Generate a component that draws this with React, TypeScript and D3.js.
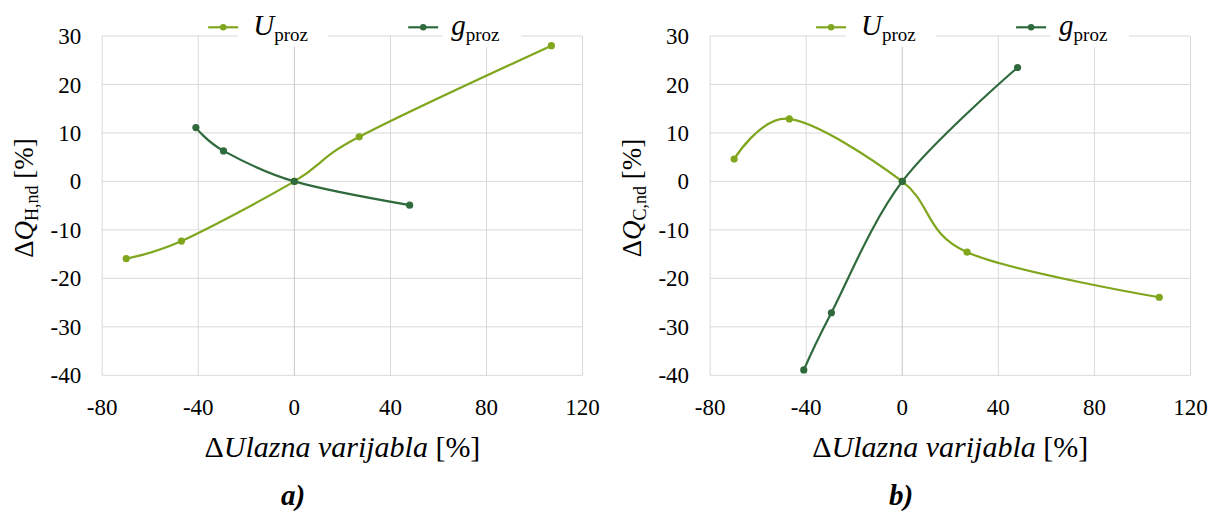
import React from "react";
import * as d3 from "d3";

// ---- data ----
const xU = [-70, -47, 0, 27, 107];
const xG = [-41, -29.5, 0, 48];
const leftU = [-15.9, -12.3, 0, 9.2, 28.0];
const leftG = [11.1, 6.3, 0, -4.9];
const rightU = [4.6, 12.9, 0, -14.6, -23.9];
const rightG = [-38.9, -27.1, 0, 23.5];
const xTicks = [-80, -40, 0, 40, 80, 120];
const yTicks = [30, 20, 10, 0, -10, -20, -30, -40];
const seriesNames = ["U", "g"];
const subName = "proz";
const panels = [
  { sub: "H,nd", label: "a)", u: leftU, g: leftG },
  { sub: "C,nd", label: "b)", u: rightU, g: rightG },
];

const COL_U = "#7fa61d";
const COL_G = "#2f6a3d";
const GRID = "#d9d9d9";
const FONT = "Liberation Serif";
const fs = (size: number, extra: React.CSSProperties = {}): React.CSSProperties => ({
  fontFamily: FONT,
  fontSize: size + "px",
  ...extra,
});

function Panel({ left, p }: { left: number; p: typeof panels[0] }) {
  const W = 480.4;
  const top = 36;
  const bottom = 375.3;
  const x = d3.scaleLinear().domain([-80, 120]).range([left, left + W]);
  const y = d3.scaleLinear().domain([-40, 30]).range([bottom, top]);
  const line = d3
    .line<[number, number]>()
    .x((d) => x(d[0]))
    .y((d) => y(d[1]))
    .curve(d3.curveCardinal.tension(0));
  const uPts = xU.map((v, i) => [v, p.u[i]] as [number, number]);
  const gPts = xG.map((v, i) => [v, p.g[i]] as [number, number]);
  const cx = left + W / 2;
  const legY = 27.3;
  const legend = [
    { name: seriesNames[0], col: COL_U, l0: 106, box: [136, 226], tx: 151 },
    { name: seriesNames[1], col: COL_G, l0: 306, box: [340, 419], tx: 349 },
  ];
  return (
    <g>
      {yTicks.map((t) => (
        <line key={"h" + t} x1={left} x2={left + W} y1={y(t)} y2={y(t)} stroke={GRID} strokeWidth={1} />
      ))}
      {xTicks.map((t) => (
        <line key={"v" + t} x1={x(t)} x2={x(t)} y1={top} y2={bottom} stroke={t === 0 ? "#c6c6c6" : GRID} strokeWidth={1} />
      ))}
      {legend.map((L) => (
        <rect key={"b" + L.name} x={left + L.box[0]} y={8} width={L.box[1] - L.box[0]} height={38.7} fill="#fff" />
      ))}
      {legend.map((L) => (
        <g key={"l" + L.name}>
          <line x1={left + L.l0} x2={left + L.l0 + 30} y1={legY} y2={legY} stroke={L.col} strokeWidth={2.2} />
          <circle cx={left + L.l0 + 15} cy={legY} r={3.2} fill={L.col} />
          <text x={left + L.tx} y={35} style={fs(29)} fill="#000">
            <tspan style={{ fontStyle: "italic" }}>{L.name}</tspan>
            <tspan style={{ fontSize: "19px" }} dy={6}>{subName}</tspan>
          </text>
        </g>
      ))}
      <path d={line(uPts) || ""} fill="none" stroke={COL_U} strokeWidth={2.2} />
      <path d={line(gPts) || ""} fill="none" stroke={COL_G} strokeWidth={2.2} />
      {uPts.map((d, i) => (
        <circle key={"u" + i} cx={x(d[0])} cy={y(d[1])} r={3.6} fill={COL_U} />
      ))}
      {gPts.map((d, i) => (
        <circle key={"g" + i} cx={x(d[0])} cy={y(d[1])} r={3.6} fill={COL_G} />
      ))}
      {yTicks.map((t) => (
        <text key={"yt" + t} x={left - 21} y={y(t)} dy="0.35em" textAnchor="end" style={fs(23)} fill="#000">
          {t}
        </text>
      ))}
      {xTicks.map((t) => (
        <text key={"xt" + t} x={x(t)} y={415.3} textAnchor="middle" style={fs(23)} fill="#000">
          {t}
        </text>
      ))}
      <text x={cx} y={457} textAnchor="middle" style={fs(30)} fill="#000">
        <tspan>Δ</tspan>
        <tspan style={{ fontStyle: "italic" }}>Ulazna varijabla</tspan>
        <tspan> [%]</tspan>
      </text>
      <text transform={`translate(${left - 69},198) rotate(-90)`} textAnchor="middle" style={fs(27)} fill="#000">
        <tspan>Δ</tspan>
        <tspan style={{ fontStyle: "italic" }}>Q</tspan>
        <tspan style={{ fontSize: "18px" }} dy={5}>{p.sub}</tspan>
        <tspan dy={-5}> [%]</tspan>
      </text>
      <text x={left + 191} y={505} textAnchor="middle" style={fs(29, { fontWeight: "bold", fontStyle: "italic" })} fill="#000">
        {p.label}
      </text>
    </g>
  );
}

export default function App() {
  return (
    <svg width={1211} height={512} style={{ position: "absolute", left: 0, top: 0, background: "#fff", fontFamily: FONT }}>
      <style>{`text, tspan { font-family: "Liberation Serif"; }`}</style>
      <rect width={1211} height={512} fill="#fff" />
      <Panel left={102.2} p={panels[0]} />
      <Panel left={710.1} p={panels[1]} />
    </svg>
  );
}
